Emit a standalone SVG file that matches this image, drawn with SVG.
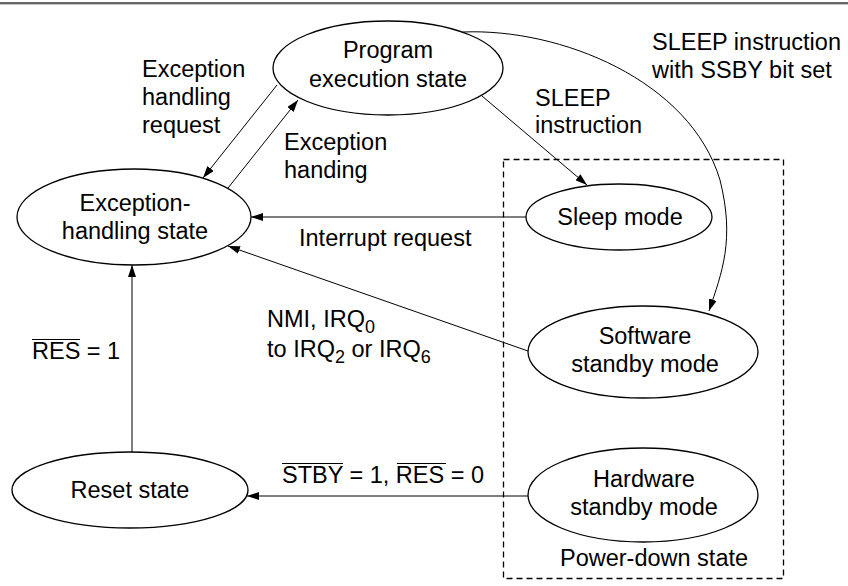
<svg xmlns="http://www.w3.org/2000/svg" width="848" height="586" viewBox="0 0 848 586">
<style>
text{font-family:"Liberation Sans",Arial,Helvetica,sans-serif;font-size:23.5px;fill:#000}
.c{text-anchor:middle}
.node{fill:#fff;stroke:#000;stroke-width:1.3}
.conn{fill:none;stroke:#000;stroke-width:1}
.sub{font-size:18px}
</style>
<defs>
<marker id="arr" markerWidth="12" markerHeight="8" refX="12" refY="4" orient="auto" markerUnits="userSpaceOnUse">
<path d="M0,0 L12,4 L0,8 z" fill="#000"/>
</marker>
</defs>
<rect x="0" y="2" width="848" height="2.4" fill="#666"/>
<g id="power-down">
<rect x="503.5" y="159.5" width="280" height="419" fill="none" stroke="#000" stroke-width="1.3" stroke-dasharray="6,4"/>
<text class="c" x="654" y="566">Power-down state</text>
</g>
<g id="connectors">
<line class="conn" x1="277" y1="85" x2="203" y2="178" marker-end="url(#arr)"/>
<line class="conn" x1="228" y1="188" x2="298" y2="100" marker-end="url(#arr)"/>
<line class="conn" x1="482" y1="96" x2="587" y2="185" marker-end="url(#arr)"/>
<path class="conn" d="M463,32 C560,28 690,80 720,180 C735,240 722,272 709,311" marker-end="url(#arr)"/>
<line class="conn" x1="526" y1="217" x2="251" y2="217" marker-end="url(#arr)"/>
<line class="conn" x1="528" y1="351" x2="228" y2="246" marker-end="url(#arr)"/>
<line class="conn" x1="132" y1="452" x2="132" y2="265" marker-end="url(#arr)"/>
<line class="conn" x1="528" y1="496" x2="247" y2="496" marker-end="url(#arr)"/>
</g>
<g id="labels">
<text x="142" y="77">Exception</text>
<text x="142" y="105">handling</text>
<text x="142" y="133">request</text>
<text x="284" y="150">Exception</text>
<text x="284" y="178">handing</text>
<text x="535" y="106">SLEEP</text>
<text x="535" y="133">instruction</text>
<text x="652" y="50">SLEEP instruction</text>
<text x="652" y="78">with SSBY bit set</text>
<text x="299" y="246">Interrupt request</text>
<text x="267" y="327">NMI, IRQ<tspan class="sub" dy="6">0</tspan></text>
<text x="267" y="357">to IRQ<tspan class="sub" dy="6">2</tspan><tspan dy="-6"> or IRQ</tspan><tspan class="sub" dy="6">6</tspan></text>
<text x="32" y="359">RES = 1</text>
<line x1="32" y1="339.5" x2="80" y2="339.5" stroke="#000" stroke-width="1.2"/>
<text x="282" y="483">STBY = 1, RES = 0</text>
<line x1="282" y1="463.5" x2="343" y2="463.5" stroke="#000" stroke-width="1.2"/>
<line x1="397" y1="463.5" x2="446" y2="463.5" stroke="#000" stroke-width="1.2"/>
</g>
<g id="program">
<ellipse class="node" cx="388" cy="68" rx="115" ry="47"/>
<text class="c" x="388" y="58">Program</text>
<text class="c" x="388" y="87">execution state</text>
</g>
<g id="exception">
<ellipse class="node" cx="134" cy="217" rx="117" ry="48"/>
<text class="c" x="135" y="211">Exception-</text>
<text class="c" x="135" y="239">handling state</text>
</g>
<g id="sleep">
<ellipse class="node" cx="619" cy="217" rx="93" ry="33"/>
<text class="c" x="620" y="225">Sleep mode</text>
</g>
<g id="software">
<ellipse class="node" cx="643" cy="352" rx="115" ry="46"/>
<text class="c" x="645" y="344">Software</text>
<text class="c" x="645" y="372">standby mode</text>
</g>
<g id="reset">
<ellipse class="node" cx="130" cy="490" rx="118" ry="38"/>
<text class="c" x="130" y="498">Reset state</text>
</g>
<g id="hardware">
<ellipse class="node" cx="643" cy="495" rx="115" ry="47"/>
<text class="c" x="644" y="487">Hardware</text>
<text class="c" x="644" y="515">standby mode</text>
</g>
</svg>
